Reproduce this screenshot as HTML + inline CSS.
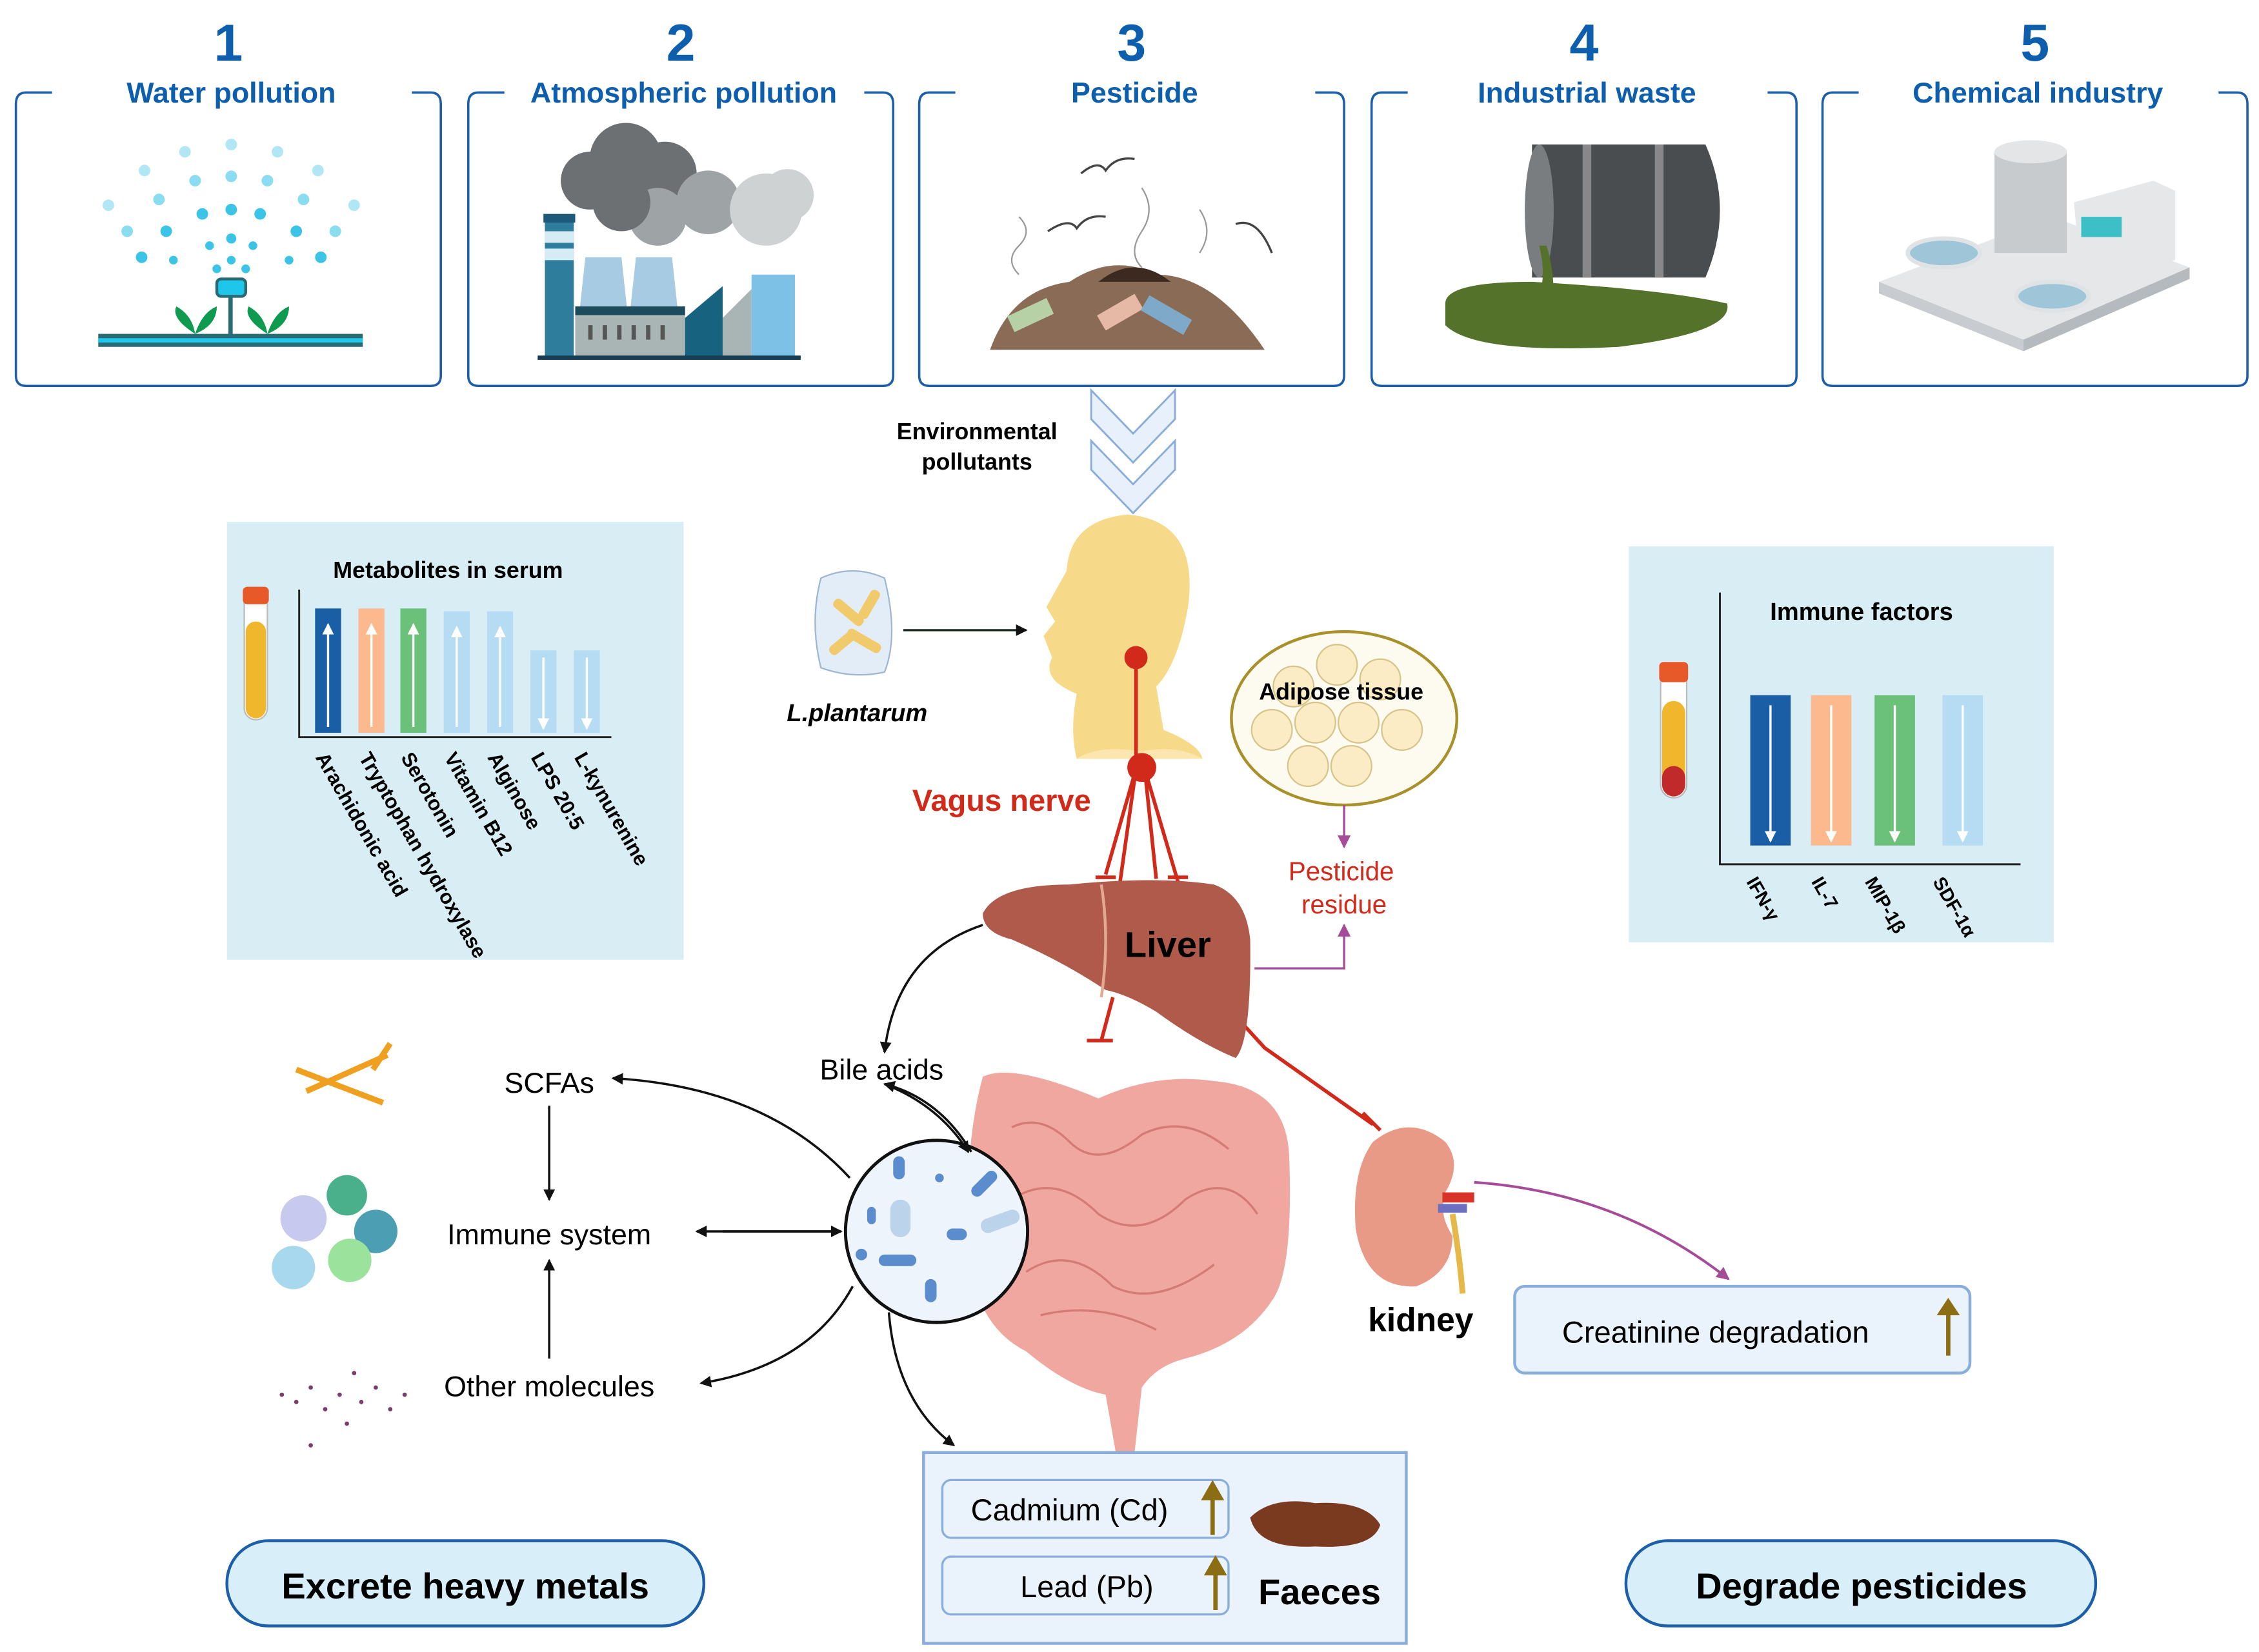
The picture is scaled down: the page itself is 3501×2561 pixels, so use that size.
<!DOCTYPE html>
<html><head><meta charset="utf-8"><style>
html,body{margin:0;padding:0;background:#fff}
svg{display:block}
text{font-family:"Liberation Sans",Arial,sans-serif}
</style></head><body>
<svg width="3501" height="2561" viewBox="0 0 1563 1143" preserveAspectRatio="none" xmlns="http://www.w3.org/2000/svg">
<defs>
<marker id="ab" markerWidth="8" markerHeight="8" refX="7" refY="4" orient="auto" markerUnits="userSpaceOnUse"><path d="M0,0 L8,4 L0,8 z" fill="#111"/></marker>
<marker id="ap" markerWidth="9" markerHeight="9" refX="8" refY="4.5" orient="auto" markerUnits="userSpaceOnUse"><path d="M0,0 L9,4.5 L0,9 z" fill="#a54b98"/></marker>
<marker id="aw" markerWidth="8" markerHeight="8" refX="7" refY="4" orient="auto" markerUnits="userSpaceOnUse"><path d="M0,0 L8,4 L0,8 z" fill="#fff"/></marker>
</defs>
<!-- top boxes -->
<g fill="none" stroke="#1c5fa8" stroke-width="1.6">
<path d="M36,64 H18 Q11,64 11,72 V260 Q11,267 18,267 H298 Q305,267 305,260 V72 Q305,64 298,64 H285"/>
<path d="M349,64 H331 Q324,64 324,72 V260 Q324,267 331,267 H611 Q618,267 618,260 V72 Q618,64 611,64 H598"/>
<path d="M661,64 H643 Q636,64 636,72 V260 Q636,267 643,267 H923 Q930,267 930,260 V72 Q930,64 923,64 H910"/>
<path d="M974,64 H956 Q949,64 949,72 V260 Q949,267 956,267 H1236 Q1243,267 1243,260 V72 Q1243,64 1236,64 H1223"/>
<path d="M1286,64 H1268 Q1261,64 1261,72 V260 Q1261,267 1268,267 H1548 Q1555,267 1555,260 V72 Q1555,64 1548,64 H1535"/>
</g>
<g fill="#0d5fae" font-weight="bold" text-anchor="middle">
<text x="158" y="42" font-size="36">1</text><text x="471" y="42" font-size="36">2</text><text x="783" y="42" font-size="36">3</text><text x="1096" y="42" font-size="36">4</text><text x="1408" y="42" font-size="36">5</text>
<text x="160" y="71" font-size="20">Water pollution</text><text x="473" y="71" font-size="20">Atmospheric pollution</text><text x="785" y="71" font-size="20">Pesticide</text><text x="1098" y="71" font-size="20">Industrial waste</text><text x="1410" y="71" font-size="20">Chemical industry</text>
</g>
<!-- icon 1 -->
<g fill="#3cc4e6">
<circle cx="160" cy="100" r="4" opacity=".4"/><circle cx="160" cy="122" r="4" opacity=".6"/><circle cx="160" cy="145" r="4"/><circle cx="160" cy="165" r="3.5"/><circle cx="160" cy="180" r="3"/>
<circle cx="128" cy="105" r="4" opacity=".4"/><circle cx="135" cy="125" r="4" opacity=".6"/><circle cx="140" cy="148" r="4"/><circle cx="145" cy="170" r="3"/><circle cx="150" cy="186" r="3"/>
<circle cx="192" cy="105" r="4" opacity=".4"/><circle cx="185" cy="125" r="4" opacity=".6"/><circle cx="180" cy="148" r="4"/><circle cx="175" cy="170" r="3"/><circle cx="170" cy="186" r="3"/>
<circle cx="100" cy="118" r="4" opacity=".4"/><circle cx="110" cy="138" r="4" opacity=".6"/><circle cx="115" cy="160" r="4"/><circle cx="120" cy="180" r="3"/>
<circle cx="220" cy="118" r="4" opacity=".4"/><circle cx="210" cy="138" r="4" opacity=".6"/><circle cx="205" cy="160" r="4"/><circle cx="200" cy="180" r="3"/>
<circle cx="75" cy="142" r="4" opacity=".4"/><circle cx="88" cy="160" r="4" opacity=".6"/><circle cx="98" cy="178" r="4"/>
<circle cx="245" cy="142" r="4" opacity=".4"/><circle cx="232" cy="160" r="4" opacity=".6"/><circle cx="222" cy="178" r="4"/>
</g>
<rect x="150" y="193" width="20" height="12" rx="3" fill="#1ec7ea" stroke="#2a6a75" stroke-width="2"/>
<rect x="158" y="205" width="3" height="30" fill="#2a6a75"/>
<rect x="68" y="231" width="183" height="9" fill="#2a6a75"/><rect x="68" y="234" width="183" height="3" fill="#1ec7ea"/>
<path d="M135,231 Q118,220 122,212 Q133,218 135,231 Q140,216 150,212 Q150,225 135,231z M185,231 Q168,220 172,212 Q183,218 185,231 Q190,216 200,212 Q200,225 185,231z" fill="#0e9a4f"/>
<!-- icon 2 factory -->
<g>
<circle cx="433" cy="110" r="25" fill="#6c7073"/><circle cx="408" cy="125" r="20" fill="#6c7073"/><circle cx="460" cy="120" r="22" fill="#6c7073"/>
<circle cx="490" cy="140" r="22" fill="#9ea3a5"/><circle cx="530" cy="145" r="25" fill="#cfd2d3"/><circle cx="545" cy="135" r="18" fill="#cfd2d3"/>
<circle cx="455" cy="150" r="20" fill="#9ea3a5"/><circle cx="430" cy="140" r="20" fill="#6c7073"/>
<rect x="377" y="150" width="20" height="97" fill="#2f7d9d"/><rect x="376" y="148" width="22" height="6" fill="#1d5a7a"/>
<rect x="377" y="160" width="20" height="8" fill="#d6ecf5"/><rect x="377" y="172" width="20" height="8" fill="#d6ecf5"/>
<path d="M405,178 H430 L434,215 H401z M440,178 H465 L469,215 H436z" fill="#a7cbe2"/>
<rect x="398" y="215" width="76" height="32" fill="#a9b4b5"/><rect x="398" y="212" width="76" height="6" fill="#1d4b5e"/>
<g fill="#555"><rect x="407" y="225" width="3" height="10"/><rect x="417" y="225" width="3" height="10"/><rect x="427" y="225" width="3" height="10"/><rect x="437" y="225" width="3" height="10"/><rect x="447" y="225" width="3" height="10"/><rect x="457" y="225" width="3" height="10"/></g>
<path d="M474,247 V220 L500,198 V247z" fill="#16627f"/><path d="M500,247 V220 L520,200 V247z" fill="#a9b4b5"/>
<rect x="520" y="190" width="30" height="57" fill="#7ec1e6"/>
<rect x="372" y="246" width="182" height="3" fill="#173d54"/>
</g>
<!-- icon 3 pesticide -->
<path d="M685,242 Q700,200 740,195 Q770,175 800,190 Q840,190 875,242z" fill="#8a6b55"/>
<path d="M760,195 Q785,175 810,195z" fill="#3c2a20"/>
<rect x="698" y="212" width="30" height="12" fill="#b7d1a7" transform="rotate(-25 713 218)"/>
<rect x="760" y="210" width="30" height="12" fill="#e6b9a7" transform="rotate(-30 775 216)"/>
<rect x="790" y="212" width="34" height="12" fill="#7ea9c8" transform="rotate(30 807 218)"/>
<g fill="none" stroke="#444" stroke-width="1.5"><path d="M725,160 Q740,150 745,158 Q752,148 765,150"/><path d="M748,120 Q760,110 765,118 Q772,108 785,110"/><path d="M855,155 Q870,150 880,175"/></g>
<g fill="none" stroke="#999" stroke-width="1"><path d="M705,150 Q715,160 705,170 Q695,180 705,190"/><path d="M790,130 Q800,145 790,160 Q780,175 790,185"/><path d="M830,145 Q840,160 830,175"/></g>
<!-- icon 4 barrel -->
<path d="M1000,210 Q1000,195 1060,195 Q1150,200 1195,210 Q1200,230 1120,240 Q1020,245 1000,225z" fill="#55722a"/>
<path d="M1060,100 L1180,100 Q1200,145 1180,192 L1060,192z" fill="#4a4d50"/>
<ellipse cx="1065" cy="146" rx="10" ry="46" fill="#7a7d80"/>
<rect x="1095" y="100" width="6" height="92" fill="#888"/><rect x="1145" y="100" width="6" height="92" fill="#888"/>
<path d="M1065,170 Q1070,190 1065,205 L1075,205 Q1075,185 1070,170z" fill="#55722a"/>
<!-- icon 5 chemical -->
<path d="M1300,195 L1420,150 L1515,185 L1400,235z" fill="#e5e7e9"/><path d="M1300,195 L1400,235 V243 L1300,203z" fill="#c8ccd0"/><path d="M1400,235 L1515,185 V193 L1400,243z" fill="#b4babe"/>
<rect x="1380" y="105" width="50" height="70" fill="#c8cbce"/><ellipse cx="1405" cy="105" rx="25" ry="8" fill="#e3e5e7"/>
<path d="M1435,140 L1490,125 L1505,132 V180 L1440,195z" fill="#e5e7e9"/>
<rect x="1440" y="150" width="28" height="14" fill="#3dbfc8"/>
<ellipse cx="1345" cy="175" rx="25" ry="10" fill="#9ec6d8" stroke="#dfe3e6" stroke-width="3"/>
<ellipse cx="1420" cy="205" rx="25" ry="10" fill="#9ec6d8" stroke="#dfe3e6" stroke-width="3"/>
<!-- chevrons -->
<g fill="#e8f0fb" stroke="#8aaedc" stroke-width="1.3">
<path d="M755,270 L784,300 L813,270 V290 L784,320 L755,290z"/>
<path d="M755,305 L784,335 L813,305 V325 L784,355 L755,325z"/>
</g>
<text x="676" y="304" font-size="16" font-weight="bold" text-anchor="middle">Environmental</text>
<text x="676" y="325" font-size="16" font-weight="bold" text-anchor="middle">pollutants</text>
<!-- head -->
<path d="M745,525 Q740,505 745,480 Q720,470 728,455 L722,440 L730,430 L724,420 L738,395 Q740,360 780,356 Q830,360 822,420 Q815,460 800,475 L805,505 Q830,515 832,525z" fill="#f7d98a"/>
<path d="M745,525 Q760,515 790,520 Q815,515 832,525z" fill="#fbe6b0"/>
<!-- L.plantarum -->
<path d="M568,400 Q590,390 612,400 Q622,440 612,465 Q590,470 568,462 Q560,430 568,400z" fill="#e3edf7" stroke="#9fb6d0"/>
<g fill="#f1cb6b"><rect x="575" y="420" width="25" height="7" rx="3" transform="rotate(40 587 423)"/><rect x="585" y="440" width="26" height="7" rx="3" transform="rotate(30 598 443)"/><rect x="590" y="415" width="22" height="7" rx="3" transform="rotate(-60 601 418)"/><rect x="572" y="442" width="20" height="7" rx="3" transform="rotate(-40 582 445)"/></g>
<text x="593" y="499" font-size="17" font-weight="bold" font-style="italic" text-anchor="middle">L.plantarum</text>
<line x1="625" y1="436" x2="710" y2="436" stroke="#1a2a20" stroke-width="1.5" marker-end="url(#ab)"/>
<!-- metabolites box -->
<rect x="157" y="361" width="316" height="303" fill="#d8eef4"/>
<text x="310" y="400" font-size="16" font-weight="bold" text-anchor="middle">Metabolites in serum</text>
<rect x="169" y="408" width="16" height="90" rx="8" fill="#fff" stroke="#bbb"/><rect x="170" y="430" width="14" height="67" rx="7" fill="#f1b72c"/><rect x="168" y="406" width="18" height="12" rx="3" fill="#e8592a"/>
<path d="M207,408 V510 H423" fill="none" stroke="#222" stroke-width="1.3"/>
<rect x="218" y="421" width="18" height="86" fill="#1a5fa6"/><rect x="248" y="421" width="18" height="86" fill="#fdb98e"/><rect x="277" y="421" width="18" height="86" fill="#6cc17a"/><rect x="307" y="423" width="18" height="84" fill="#b6dcf3"/><rect x="337" y="423" width="18" height="84" fill="#b6dcf3"/><rect x="367" y="450" width="18" height="57" fill="#b6dcf3"/><rect x="397" y="450" width="18" height="57" fill="#b6dcf3"/>
<g stroke="#fff" stroke-width="1.5"><line x1="227" y1="503" x2="227" y2="432" marker-end="url(#aw)"/><line x1="257" y1="503" x2="257" y2="432" marker-end="url(#aw)"/><line x1="286" y1="503" x2="286" y2="432" marker-end="url(#aw)"/><line x1="316" y1="503" x2="316" y2="434" marker-end="url(#aw)"/><line x1="346" y1="503" x2="346" y2="434" marker-end="url(#aw)"/><line x1="376" y1="455" x2="376" y2="504" marker-end="url(#aw)"/><line x1="406" y1="455" x2="406" y2="504" marker-end="url(#aw)"/></g>
<g font-size="14" font-weight="bold">
<text transform="translate(218,524) rotate(60)">Arachidonic acid</text>
<text transform="translate(248,524) rotate(60)">Tryptophan hydroxylase</text>
<text transform="translate(277,524) rotate(60)">Serotonin</text>
<text transform="translate(307,524) rotate(60)">Vitamin B12</text>
<text transform="translate(337,524) rotate(60)">Alginose</text>
<text transform="translate(367,524) rotate(60)">LPS 20:5</text>
<text transform="translate(397,524) rotate(60)">L-kynurenine</text>
</g>
<!-- immune factors -->
<rect x="1127" y="378" width="294" height="274" fill="#d8eef4"/>
<text x="1288" y="429" font-size="17" font-weight="bold" text-anchor="middle">Immune factors</text>
<rect x="1149" y="460" width="18" height="92" rx="9" fill="#fff" stroke="#bbb"/><rect x="1150" y="485" width="16" height="66" rx="8" fill="#f1b72c"/><rect x="1150" y="530" width="16" height="21" rx="8" fill="#c02a2a"/><rect x="1148" y="458" width="20" height="14" rx="3" fill="#e8592a"/>
<path d="M1190,410 V598 H1398" fill="none" stroke="#222" stroke-width="1.3"/>
<rect x="1211" y="481" width="28" height="104" fill="#1a5fa6"/><rect x="1253" y="481" width="28" height="104" fill="#fdb98e"/><rect x="1297" y="481" width="28" height="104" fill="#6cc17a"/><rect x="1344" y="481" width="28" height="104" fill="#b6dcf3"/>
<g stroke="#fff" stroke-width="1.5"><line x1="1225" y1="488" x2="1225" y2="582" marker-end="url(#aw)"/><line x1="1267" y1="488" x2="1267" y2="582" marker-end="url(#aw)"/><line x1="1311" y1="488" x2="1311" y2="582" marker-end="url(#aw)"/><line x1="1358" y1="488" x2="1358" y2="582" marker-end="url(#aw)"/></g>
<g font-size="13" font-weight="bold"><text transform="translate(1208,610) rotate(60)">IFN-γ</text><text transform="translate(1253,610) rotate(60)">IL-7</text><text transform="translate(1290,610) rotate(60)">MIP-1β</text><text transform="translate(1337,610) rotate(60)">SDF-1α</text></g>
<!-- vagus -->
<g fill="none" stroke="#d12a1a" stroke-width="2.5">
<path d="M786,455 V532"/>
<path d="M786,532 L765,605 M786,532 L775,610 M792,532 L800,608 M792,532 L815,610"/>
<path d="M770,690 L762,720 M843,690 L875,725 L950,778"/>
<path d="M758,607 L772,607 M808,607 L822,607 M752,720 L770,720 M943,770 L955,782"/>
</g>
<circle cx="786" cy="455" r="8" fill="#d12a1a"/><circle cx="790" cy="531" r="10" fill="#d12a1a"/>
<text x="693" y="561" font-size="21" font-weight="bold" fill="#d12a1a" text-anchor="middle">Vagus nerve</text>
<!-- adipose -->
<ellipse cx="930" cy="497" rx="78" ry="60" fill="#fdfaf0" stroke="#a8912a" stroke-width="2"/>
<g fill="#fbecc6" stroke="#d6c48a"><circle cx="895" cy="475" r="14"/><circle cx="925" cy="460" r="14"/><circle cx="955" cy="470" r="14"/><circle cx="880" cy="505" r="14"/><circle cx="910" cy="500" r="14"/><circle cx="940" cy="500" r="14"/><circle cx="970" cy="505" r="14"/><circle cx="905" cy="530" r="14"/><circle cx="935" cy="530" r="14"/></g>
<text x="928" y="484" font-size="16" font-weight="bold" text-anchor="middle">Adipose tissue</text>
<line x1="930" y1="557" x2="930" y2="586" stroke="#a54b98" stroke-width="1.5" marker-end="url(#ap)"/>
<text x="928" y="609" font-size="18" fill="#d12a1a" text-anchor="middle">Pesticide</text>
<text x="930" y="632" font-size="18" fill="#d12a1a" text-anchor="middle">residue</text>
<path d="M868,670 H930 V640" fill="none" stroke="#a54b98" stroke-width="1.5" marker-end="url(#ap)"/>
<!-- liver -->
<path d="M680,632 Q690,612 740,612 Q800,606 840,612 Q862,620 865,650 Q866,720 855,732 Q830,722 800,700 Q780,688 765,685 Q735,665 700,650 Q680,645 680,632z" fill="#b05a4c"/>
<path d="M762,612 Q768,650 762,690" fill="none" stroke="#e0a990" stroke-width="2"/>
<text x="808" y="662" font-size="25" font-weight="bold" text-anchor="middle">Liver</text>
<!-- intestines -->
<path d="M680,745 Q700,735 760,760 Q800,742 840,748 Q890,752 892,800 Q895,880 880,900 Q860,930 820,940 Q800,945 790,960 L785,1005 L772,1005 L765,965 Q740,960 710,935 Q680,920 672,880 Q665,800 680,745z" fill="#f0a7a0"/>
<g fill="none" stroke="#d37b74" stroke-width="1.5"><path d="M700,780 Q720,770 740,790 Q760,810 790,785 Q820,770 850,795"/><path d="M700,830 Q730,810 760,840 Q790,860 820,830 Q850,810 870,840"/><path d="M710,880 Q740,860 770,890 Q800,905 840,875"/><path d="M720,910 Q760,900 800,920"/></g>
<!-- bacteria circle -->
<circle cx="648" cy="852" r="63" fill="#eef4fb" stroke="#111" stroke-width="2.2"/>
<g fill="#5b8ccd"><rect x="618" y="800" width="8" height="16" rx="4"/><rect x="670" y="815" width="22" height="8" rx="4" transform="rotate(-45 681 819)"/><rect x="655" y="850" width="14" height="8" rx="4"/><rect x="608" y="868" width="26" height="8" rx="4"/><rect x="640" y="885" width="8" height="16" rx="4"/><rect x="600" y="835" width="6" height="12" rx="3"/><circle cx="650" cy="815" r="3"/><circle cx="596" cy="868" r="4"/></g>
<rect x="616" y="830" width="14" height="26" rx="7" fill="#bcd3ec"/><rect x="678" y="840" width="28" height="10" rx="5" fill="#bcd3ec" transform="rotate(-20 692 845)"/>
<!-- left labels -->
<text x="380" y="756" font-size="20" text-anchor="middle">SCFAs</text>
<text x="380" y="861" font-size="20" text-anchor="middle">Immune system</text>
<text x="380" y="966" font-size="20" text-anchor="middle">Other molecules</text>
<text x="610" y="747" font-size="20" text-anchor="middle">Bile acids</text>
<g fill="none" stroke="#111" stroke-width="1.6">
<line x1="380" y1="765" x2="380" y2="830" marker-end="url(#ab)"/>
<line x1="380" y1="940" x2="380" y2="872" marker-end="url(#ab)"/>
<path d="M588,815 Q530,752 424,746" marker-end="url(#ab)"/>
<line x1="500" y1="852" x2="582" y2="852" marker-end="url(#ab)"/>
<line x1="582" y1="852" x2="482" y2="852" marker-end="url(#ab)"/>
<path d="M590,890 Q560,945 485,957" marker-end="url(#ab)"/>
<path d="M672,797 Q650,760 612,750" marker-end="url(#ab)"/>
<path d="M612,750 Q650,765 670,797" marker-end="url(#ab)"/>
<path d="M680,640 Q620,660 612,728" marker-end="url(#ab)"/>
<path d="M615,908 Q620,970 660,1000" marker-end="url(#ab)"/>
</g>
<!-- SCFA icon -->
<g stroke="#f0a020" stroke-width="4"><line x1="205" y1="740" x2="265" y2="763"/><line x1="212" y1="755" x2="268" y2="730"/><line x1="258" y1="740" x2="270" y2="722"/></g>
<!-- cells -->
<circle cx="210" cy="843" r="16" fill="#c8c9ee"/><circle cx="240" cy="827" r="14" fill="#4ab08c"/><circle cx="260" cy="852" r="15" fill="#4c9fb2"/><circle cx="242" cy="872" r="15" fill="#9be39c"/><circle cx="203" cy="877" r="15" fill="#a8d8ee"/>
<g fill="#7a3a6a"><circle cx="195" cy="965" r="1.5"/><circle cx="205" cy="970" r="1.5"/><circle cx="215" cy="960" r="1.5"/><circle cx="225" cy="975" r="1.5"/><circle cx="235" cy="965" r="1.5"/><circle cx="245" cy="950" r="1.5"/><circle cx="250" cy="970" r="1.5"/><circle cx="260" cy="960" r="1.5"/><circle cx="270" cy="975" r="1.5"/><circle cx="215" cy="1000" r="1.5"/><circle cx="240" cy="985" r="1.5"/><circle cx="280" cy="965" r="1.5"/></g>
<!-- kidney -->
<path d="M950,790 Q975,770 1000,790 Q1012,805 1000,825 Q995,840 1005,855 Q1005,880 980,890 Q945,892 938,850 Q935,810 950,790z" fill="#e89a86"/>
<rect x="998" y="825" width="22" height="7" fill="#d9342a"/><rect x="995" y="833" width="20" height="6" fill="#6d6fc0"/><path d="M1005,840 Q1010,870 1012,895" stroke="#e6b84a" stroke-width="4" fill="none"/>
<text x="983" y="921" font-size="23" font-weight="bold" text-anchor="middle">kidney</text>
<path d="M1020,818 Q1120,825 1196,885" fill="none" stroke="#a54b98" stroke-width="1.8" marker-end="url(#ap)"/>
<rect x="1048" y="890" width="315" height="60" rx="7" fill="#eaf2fb" stroke="#8aaedc" stroke-width="2"/>
<text x="1187" y="929" font-size="21" text-anchor="middle">Creatinine degradation</text>
<line x1="1348" y1="938" x2="1348" y2="905" stroke="#8b6d14" stroke-width="3"/><path d="M1340,910 L1348,898 L1356,910z" fill="#8b6d14"/>
<!-- faeces box -->
<rect x="639" y="1005" width="334" height="132" fill="#eaf2fb" stroke="#8aaedc" stroke-width="2"/>
<rect x="652" y="1024" width="198" height="40" rx="6" fill="#eaf2fb" stroke="#8aaedc" stroke-width="1.5"/>
<rect x="652" y="1077" width="198" height="40" rx="6" fill="#eaf2fb" stroke="#8aaedc" stroke-width="1.5"/>
<text x="740" y="1052" font-size="21" text-anchor="middle">Cadmium (Cd)</text>
<text x="752" y="1105" font-size="21" text-anchor="middle">Lead (Pb)</text>
<g stroke="#8b6d14" stroke-width="3"><line x1="839" y1="1062" x2="839" y2="1034"/><line x1="841" y1="1114" x2="841" y2="1086"/></g>
<path d="M831,1038 L839,1024 L847,1038z M833,1090 L841,1076 L849,1090z" fill="#8b6d14"/>
<path d="M865,1050 Q880,1035 910,1040 Q945,1038 955,1055 Q950,1072 910,1070 Q870,1072 865,1050z" fill="#7a3a20"/>
<text x="913" y="1110" font-size="25" font-weight="bold" text-anchor="middle">Faeces</text>
<!-- bottom pills -->
<rect x="157" y="1066" width="330" height="59" rx="29" fill="#d8eef8" stroke="#1c5fa8" stroke-width="2"/>
<text x="322" y="1106" font-size="25" font-weight="bold" text-anchor="middle">Excrete heavy metals</text>
<rect x="1125" y="1066" width="325" height="59" rx="29" fill="#d8eef8" stroke="#1c5fa8" stroke-width="2"/>
<text x="1288" y="1106" font-size="25" font-weight="bold" text-anchor="middle">Degrade pesticides</text>
</svg>
</body></html>
